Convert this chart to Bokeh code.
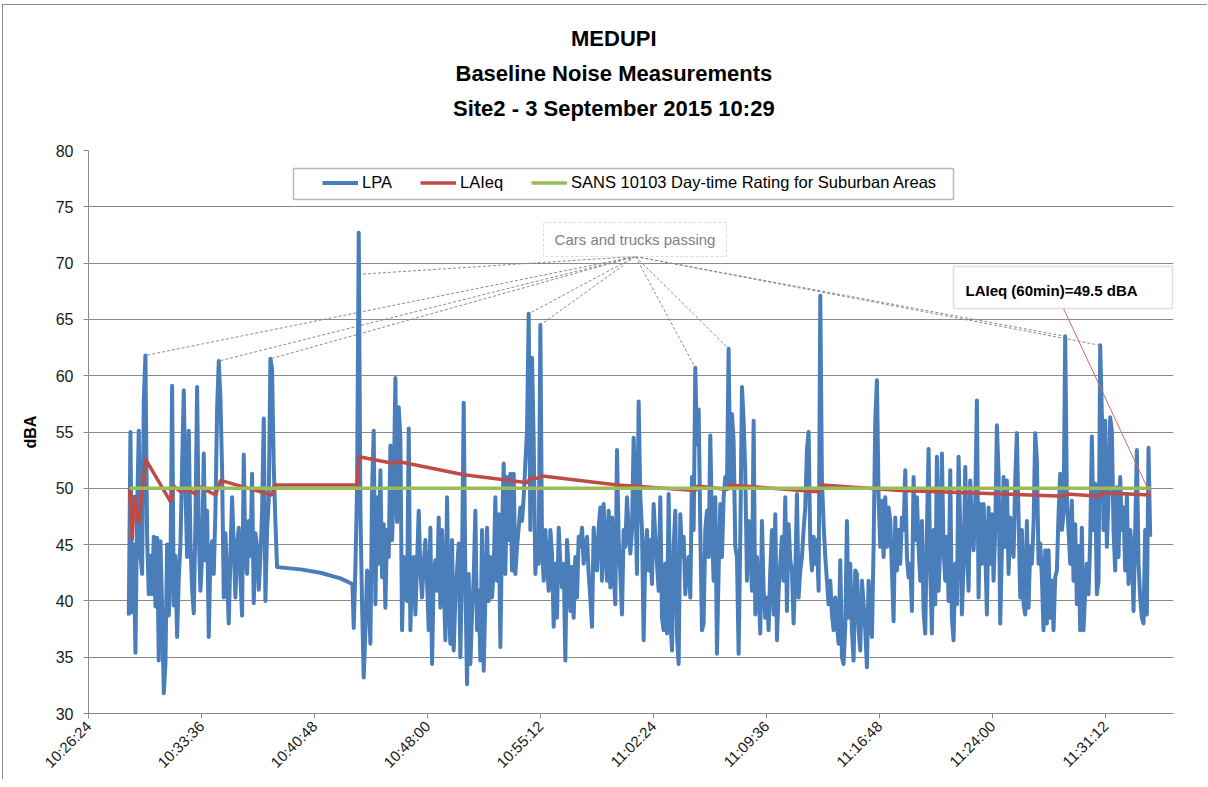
import math
import numpy as np
from bokeh.plotting import figure
from bokeh.models import (FixedTicker, Legend, LegendItem, BoxAnnotation, Label, Range1d, Title)
from bokeh.embed import file_html
from bokeh.resources import INLINE


def hms(s):
    h, m, sec = map(int, s.split(":"))
    return h * 3600 + m * 60 + sec


# ---------------- data ----------------
title_lines = ["MEDUPI", "Baseline Noise Measurements", "Site2 - 3 September 2015 10:29"]
x_tick_labels = ["10:26:24", "10:33:36", "10:40:48", "10:48:00", "10:55:12",
                 "11:02:24", "11:09:36", "11:16:48", "11:24:00", "11:31:12"]
y_ticks = [30, 35, 40, 45, 50, 55, 60, 65, 70, 75, 80]

lpa_interval_s = 6.37
lpa_part1_start = "10:28:58"
lpa_part1 = [
    38.7, 55.0, 39.0, 45.0, 35.4, 48.0, 55.1, 44.0, 42.4, 57.8,
    61.8, 45.6, 40.6, 44.0, 40.6, 45.7, 39.5, 45.6, 34.7, 45.3,
    39.4, 31.8, 34.4, 45.0, 38.7, 42.5, 59.1, 39.6, 44.0, 36.8,
    42.0, 45.0, 52.0, 58.7, 50.0, 43.9, 55.1, 45.3, 41.0, 38.9,
    47.0, 59.0, 46.0, 40.9, 44.0, 53.1, 43.6, 48.0, 36.8, 44.0,
    45.3, 42.4, 48.0, 57.0, 61.3, 58.0, 51.6, 40.3, 46.0, 42.0,
    38.0, 44.0, 49.2, 44.8, 40.3, 45.0, 46.5, 42.0, 38.7, 53.0,
    44.0, 42.4, 47.1, 44.0, 51.3, 39.8, 46.0, 44.8, 41.0, 43.9,
    48.0, 56.2, 40.0, 46.3, 49.0, 61.5, 60.6, 52.0, 47.0, 43.0,
]
lpa_gap_times = ["10:39:55", "10:41:11", "10:42:27", "10:43:13"]
lpa_gap = [42.8, 42.5, 42.0, 41.5]
lpa_part2_start = "10:43:18"
lpa_part2 = [
    # 10:43 - 11:01
    37.6, 43.0, 50.0, 72.7, 48.0, 39.7, 33.2, 37.4, 42.7, 40.3,
    36.2, 49.8, 55.1, 39.7, 49.2, 43.3, 51.6, 42.1, 46.8, 39.4,
    46.3, 43.9, 53.8, 45.4, 50.0, 59.8, 47.0, 57.2, 54.5, 37.4,
    43.9, 41.8, 40.0, 55.3, 37.4, 43.3, 43.9, 38.8, 43.3, 48.0,
    42.7, 40.3, 43.3, 45.4, 41.8, 37.4, 46.5, 34.4, 42.4, 43.6,
    40.9, 47.4, 39.4, 46.3, 41.8, 36.5, 49.2, 39.7, 36.2, 45.4,
    35.6, 40.3, 42.7, 45.1, 35.0, 43.3, 57.6, 41.8, 32.6, 42.4,
    34.4, 38.8, 42.1, 48.0, 37.4, 40.9, 34.7, 46.3, 33.8, 40.3,
    46.5, 40.0, 43.9, 40.3, 42.7, 49.2, 41.8, 47.7, 35.9, 46.3,
    52.2, 42.4, 51.0, 45.4, 51.3, 42.7, 51.3, 42.4, 44.8, 46.5,
    48.3, 47.1, 49.2, 52.2, 55.1, 65.5, 46.3, 61.6, 54.2, 42.4,
    45.1, 43.3, 64.5, 45.1, 41.8, 46.3, 43.3, 40.9, 46.3, 44.2,
    37.7, 43.3, 38.5, 46.5, 43.3, 41.2, 43.3, 34.7, 45.4, 42.7,
    39.1, 43.0, 38.5, 43.9, 40.3, 45.7, 44.8, 46.5, 43.3, 44.8,
    45.7, 42.4, 40.3, 37.7, 46.5, 43.9, 42.7, 46.5, 48.3, 41.8,
    48.6, 44.8, 41.8, 48.0, 41.2, 47.4, 42.7, 39.7, 53.4, 45.4,
    42.4, 38.8, 46.3, 44.8, 49.2, 46.3, 44.2, 46.3, 54.5, 49.8,
    42.4, 57.7,
    # 11:01 - 11:18
    49.2, 46.3, 36.5, 44.2, 46.3, 42.7, 45.4, 41.5, 48.6, 45.7,
    43.3, 40.9, 49.2, 38.5, 37.4, 43.3, 37.1, 49.5, 38.5, 35.6,
    44.8, 48.0, 36.8, 34.4, 47.7, 43.9, 45.7, 40.6, 43.0, 43.9,
    40.3, 51.0, 46.3, 60.7, 53.9, 57.0, 46.3, 37.4, 38.0, 46.3,
    48.0, 43.9, 54.7, 46.3, 41.8, 49.2, 35.3, 42.7, 48.6, 43.9,
    49.2, 51.0, 50.1, 62.4, 50.0, 56.6, 54.2, 44.8, 43.9, 35.3,
    45.7, 59.0, 56.0, 51.3, 41.8, 47.1, 45.1, 40.9, 56.0, 38.8,
    43.9, 41.2, 37.1, 47.1, 40.9, 38.5, 40.3, 37.4, 42.7, 46.3,
    38.8, 47.7, 36.5, 40.9, 43.3, 45.7, 41.8, 49.2, 39.1, 46.8,
    43.6, 42.7, 38.0, 42.4, 49.5, 40.3, 42.7, 43.9, 46.3, 48.3,
    53.4, 55.0, 45.1, 42.7, 45.7, 43.3, 45.4, 40.9, 67.1, 50.7,
    46.8, 43.9, 41.8, 39.7, 41.8, 38.8, 37.4, 40.3, 38.0, 36.2,
    43.6, 35.0, 34.4, 37.7, 47.1, 38.5, 43.3, 37.4, 34.7, 42.7,
    42.4, 37.4, 35.6, 41.8, 39.7, 37.4, 34.1, 41.8, 38.5, 36.8,
    44.8, 56.0, 59.6, 49.2, 44.8, 48.9, 43.9, 49.2, 44.8, 48.3,
    47.1, 42.7, 38.2, 47.4, 42.7, 46.3, 43.3, 47.4, 46.3, 51.6,
    43.9, 42.1, 43.3, 39.1, 51.0, 45.4, 49.2, 44.8,
    # 11:18 - 11:34
    41.8, 47.1, 39.1, 37.1, 46.3, 53.5, 42.7, 37.1, 46.3, 39.7,
    52.8, 40.9, 44.8, 53.1, 44.5, 41.8, 45.7, 40.0, 51.6, 38.5,
    36.5, 43.3, 39.7, 52.8, 46.3, 38.8, 43.3, 51.9, 44.8, 40.9,
    50.7, 46.3, 44.5, 48.6, 57.8, 40.3, 48.6, 43.3, 48.6, 44.8,
    38.8, 48.3, 43.3, 47.7, 41.8, 46.3, 55.6, 51.3, 38.0, 44.5,
    51.0, 44.8, 50.7, 42.4, 47.4, 45.1, 43.9, 50.7, 54.9, 47.4,
    40.3, 46.3, 39.7, 38.8, 47.1, 39.4, 44.8, 43.3, 46.8, 54.9,
    52.5, 43.3, 45.1, 42.1, 37.4, 44.5, 38.0, 44.5, 38.5, 41.8,
    37.4, 42.1, 42.7, 47.7, 51.3, 46.3, 47.7, 63.5, 49.2, 46.3,
    43.3, 48.9, 41.8, 46.8, 39.7, 44.8, 37.4, 46.5, 37.4, 40.9,
    43.3, 40.6, 45.4, 54.6, 46.3, 50.4, 40.6, 41.8, 62.7, 56.6,
    46.3, 56.0, 44.8, 49.2, 56.3, 55.1, 46.3, 42.7, 50.1, 43.9,
    51.0, 46.3, 48.3, 42.7, 49.5, 41.5, 46.3, 44.8, 39.1, 46.3,
    53.4, 43.3, 40.3, 38.5, 38.0, 46.3, 38.8, 53.6, 45.7,
]

laeq_times = [
    "10:29:01", "10:29:11", "10:29:20", "10:29:36", "10:30:02", "10:31:38",
    "10:31:50", "10:32:16", "10:32:41", "10:33:13", "10:33:22", "10:34:30",
    "10:34:49", "10:38:06", "10:38:15", "10:43:31", "10:43:38", "10:45:51",
    "10:46:04", "10:50:19", "10:54:21", "10:54:34", "10:55:06", "10:55:19",
    "11:00:06", "11:05:05", "11:05:13", "11:07:07", "11:07:15", "11:12:55",
    "11:13:07", "11:18:09", "11:28:32", "11:28:43", "11:30:50", "11:30:57",
    "11:34:05",
]
laeq = [
    50.0, 45.4, 49.4, 46.8, 52.6, 48.8,
    50.2, 49.7, 49.9, 49.5, 50.2, 49.4,
    50.7, 49.4, 50.3, 50.3, 52.8, 52.2,
    52.4, 51.2, 50.5, 50.9, 50.9, 51.1,
    50.3, 49.8, 50.2, 49.9, 50.3, 49.7,
    50.3, 49.8, 49.3, 49.5, 49.3, 49.6,
    49.4,
]

rating_times = ["10:29:01", "11:34:05"]
rating = [50, 50]

# approximate times of the peaks that the callout points at
callout_targets = ["10:30:02", "10:34:41", "10:38:07", "10:43:36", "10:54:34",
                   "10:55:12", "11:05:09", "11:07:15", "11:28:39", "11:30:57"]

# ---------------- build series ----------------
t1 = hms(lpa_part1_start) + np.arange(len(lpa_part1)) * lpa_interval_s
tg = np.array([hms(s) for s in lpa_gap_times], dtype=float)
t2 = hms(lpa_part2_start) + np.arange(len(lpa_part2)) * lpa_interval_s
lpa_t = np.concatenate([t1, tg, t2])
lpa_v = np.array(lpa_part1 + lpa_gap + lpa_part2, dtype=float)

laeq_t = [hms(s) for s in laeq_times]
rating_t = [hms(s) for s in rating_times]
x_ticks = [hms(s) for s in x_tick_labels]

# page-pixel -> data helpers for placing annotations (frame 1085 x 563 px at (88,150))
x0 = hms("10:26:24")
x1 = x0 + 4148
SPX = (x1 - x0) / 1085.0
DPY = 50.0 / 563.0


def px_x(px):
    return x0 + (px - 88) * SPX


def px_y(py):
    return 80 - (py - 150) * DPY


SANS = "'Liberation Sans', Arial, sans-serif"

# the figure sits 2px right / 4px down (+1px border) like the chart-area frame of the original
p = figure(width=1205, height=775, output_backend="svg", toolbar_location=None,
           x_range=Range1d(x0, x1), y_range=Range1d(30, 80),
           min_border_left=85, min_border_right=35, min_border_top=145,
           min_border_bottom=67)
p.styles = {"margin-left": "2px", "margin-top": "4px",
            "border-left": "1px solid #8a8a8a", "border-top": "1px solid #8a8a8a"}
p.outline_line_color = None
p.background_fill_color = "white"
p.border_fill_color = "white"

# title: spacer + three stacked lines (added bottom-up), left-aligned with pixel offsets
p.add_layout(Title(text=" ", text_font_size="1px", standoff=23), "above")
title_offsets = [482.5, 367.0, 364.5]
for txt, off in reversed(list(zip(title_lines, title_offsets))):
    p.add_layout(Title(text=txt, align="left", offset=off, standoff=8,
                       text_font=SANS, text_font_size="22px", text_font_style="bold",
                       text_color="black"), "above")

p.xgrid.visible = False
p.ygrid.ticker = FixedTicker(ticks=y_ticks)
p.ygrid.grid_line_color = "#8a8a8a"
p.ygrid.grid_line_width = 1

p.yaxis.ticker = FixedTicker(ticks=y_ticks)
p.xaxis.ticker = FixedTicker(ticks=x_ticks)
p.xaxis.major_label_overrides = {t: s for t, s in zip(x_ticks, x_tick_labels)}
p.xaxis.major_label_orientation = math.pi / 4
for ax in (p.xaxis, p.yaxis):
    ax.axis_line_color = "#8a8a8a"
    ax.major_tick_line_color = "#8a8a8a"
    ax.major_tick_out = 5
    ax.major_tick_in = 0
    ax.minor_tick_line_color = None
    ax.major_label_text_color = "#1a1a1a"
    ax.major_label_text_font = SANS
p.xaxis.major_label_text_font_size = "15px"
p.yaxis.major_label_text_font_size = "16px"
p.yaxis.major_label_standoff = 10
p.yaxis.axis_label = "dBA"
p.yaxis.axis_label_text_font = SANS
p.yaxis.axis_label_text_font_style = "bold"
p.yaxis.axis_label_text_font_size = "16px"
p.yaxis.axis_label_text_color = "black"
p.yaxis.axis_label_standoff = 14

# leader lines of the callout
peak_t, peak_v = [], []
for s in callout_targets:
    tt = hms(s)
    idx = np.where(np.abs(lpa_t - tt) <= 12)[0]
    j = idx[np.argmax(lpa_v[idx])]
    peak_t.append(lpa_t[j])
    peak_v.append(min(lpa_v[j], 69.0))
anchor_t, anchor_v = px_x(635), px_y(256)
p.segment(x0=[anchor_t] * len(peak_t), y0=[anchor_v] * len(peak_t), x1=peak_t, y1=peak_v,
          line_color="#8c8c8c", line_dash="3 2", line_width=1)

r_lpa = p.line(lpa_t, lpa_v, line_color="#4a7ebb", line_width=4, line_join="round")
r_laeq = p.line(laeq_t, laeq, line_color="#be4b48", line_width=3.5)
r_rating = p.line(rating_t, rating, line_color="#9bbb59", line_width=3.5)

# red leader to end of LAeq
p.segment(x0=[px_x(1063)], y0=[px_y(308)], x1=[laeq_t[-1]], y1=[laeq[-1]],
          line_color="#d46a66", line_width=1)

# callout boxes
p.add_layout(BoxAnnotation(left=px_x(543), right=px_x(726), top=px_y(222), bottom=px_y(256),
                           fill_color="white", fill_alpha=1, line_color="#8c8c8c",
                           line_dash="3 2", line_width=1))
p.add_layout(Label(x=px_x(634.5), y=px_y(239), text="Cars and trucks passing",
                   text_align="center", text_baseline="middle", text_color="#808080",
                   text_font_size="15px", text_font=SANS))
p.add_layout(BoxAnnotation(left=px_x(953), right=px_x(1172), top=px_y(266), bottom=px_y(308),
                           fill_color="white", fill_alpha=1, line_color="#d07a77",
                           line_width=1.5))
p.add_layout(Label(x=px_x(965), y=px_y(290), text="LAIeq (60min)=49.5 dBA",
                   text_align="left", text_baseline="alphabetic", text_color="black",
                   text_font_size="15px", text_font_style="bold", text_font=SANS))

# legend frame + legend
p.add_layout(BoxAnnotation(left=px_x(293), right=px_x(953), top=px_y(168), bottom=px_y(199),
                           fill_color="white", fill_alpha=1, line_color="#1a1a1a",
                           line_width=1.5))
legend = Legend(items=[LegendItem(label="LPA", renderers=[r_lpa]),
                       LegendItem(label="LAIeq", renderers=[r_laeq]),
                       LegendItem(label="SANS 10103 Day-time Rating for Suburban Areas",
                                  renderers=[r_rating])],
                orientation="horizontal", location=(234, 521), padding=0, margin=0,
                spacing=28, glyph_width=36, glyph_height=17, label_height=17,
                label_standoff=4, label_text_font_size="16.5px", label_text_font=SANS,
                label_text_color="black", border_line_alpha=0, background_fill_alpha=0)
p.add_layout(legend)

open("out.html", "w").write(file_html(p, INLINE))
